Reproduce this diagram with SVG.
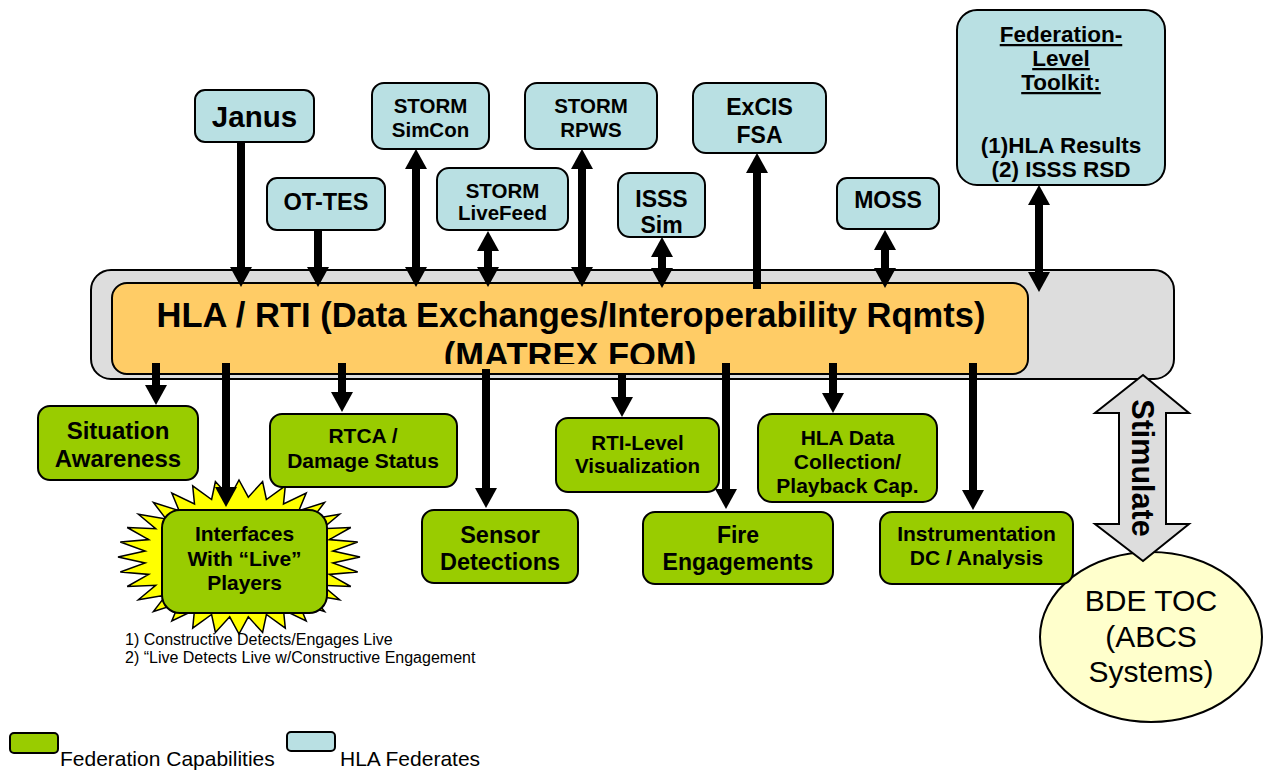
<svg xmlns="http://www.w3.org/2000/svg" width="1263" height="773" viewBox="0 0 1263 773">
<style>
.fed{fill:#b9e0e3;stroke:#000;stroke-width:2}
.cap{fill:#99cc00;stroke:#000;stroke-width:2}
.b{font-family:"Liberation Sans",Arial,sans-serif;font-weight:bold;fill:#000;text-anchor:middle}
.r{font-family:"Liberation Sans",Arial,sans-serif;fill:#000}
.ln{stroke:#000;stroke-width:8;fill:none}
.one{marker-end:url(#ah)}
.two{marker-start:url(#ah);marker-end:url(#ah)}
</style>
<defs>
<marker id="ah" markerUnits="userSpaceOnUse" markerWidth="22" markerHeight="22" refX="1" refY="11" orient="auto-start-reverse">
<path d="M0,0 L20,11 L0,22 Z" fill="#000"/>
</marker>
<clipPath id="tclip"><rect x="100" y="280" width="940" height="84"/></clipPath>
</defs>
<rect width="1263" height="773" fill="#fff"/>

<g id="rti">
<rect x="91" y="270" width="1083" height="109" rx="20" fill="#dddddd" stroke="#000" stroke-width="2"/>
<rect x="112" y="283" width="916" height="91" rx="15" fill="#ffcc66" stroke="#000" stroke-width="2"/>
<g clip-path="url(#tclip)">
<text class="b" x="571" y="327" font-size="34.5">HLA / RTI (Data Exchanges/Interoperability Rqmts)</text>
<text class="b" x="570" y="367" font-size="34.5">(MATREX FOM)</text>
</g>
</g>

<g id="live-star">
<polygon fill="#ffff00" stroke="#000" stroke-width="1.5" points="239,480 248.3,497.2 262.6,481.5 266.4,499.5 285.3,485.9 283.5,504 306.2,493 298.9,510.6 324.6,502.5 312,518.9 339.6,514.2 322.3,528.7 350.8,527.5 329.3,539.6 357.7,542 332.9,551.1 360,557 332.9,562.9 357.7,572 329.3,574.4 350.8,586.5 322.3,585.3 339.6,599.8 312,595.1 324.6,611.5 298.9,603.4 306.2,621 283.5,610 285.3,628.1 266.4,614.5 262.6,632.5 248.3,616.8 239,634 229.7,616.8 215.4,632.5 211.6,614.5 192.7,628.1 194.5,610 171.8,621 179.1,603.4 153.4,611.5 166,595.1 138.4,599.8 155.7,585.3 127.2,586.5 148.7,574.4 120.3,572 145.1,562.9 118,557 145.1,551.1 120.3,542 148.7,539.6 127.2,527.5 155.7,528.7 138.4,514.2 166,518.9 153.4,502.5 179.1,510.6 171.8,493 194.5,504 192.7,485.9 211.6,499.5 215.4,481.5 229.7,497.2"/>
</g>

<g id="bde-toc">
<ellipse cx="1151" cy="637" rx="111" ry="85" fill="#ffffcc" stroke="#000" stroke-width="2"/>
<text class="r" x="1151" y="611" font-size="30" text-anchor="middle">BDE TOC</text>
<text class="r" x="1151" y="647" font-size="30" text-anchor="middle">(ABCS</text>
<text class="r" x="1151" y="682" font-size="30" text-anchor="middle">Systems)</text>
</g>

<g id="stimulate">
<polygon points="1143,375 1189,413 1166,413 1166,524 1189,524 1143,561 1095,524 1119,524 1119,413 1095,413" fill="#dddddd" stroke="#000" stroke-width="2"/>
<text class="b" font-size="30.5" transform="translate(1132,468) rotate(90)">Stimulate</text>
</g>

<g id="connectors">
<line class="ln one" x1="241" y1="142" x2="241" y2="268"/>
<line class="ln one" x1="318" y1="230" x2="318" y2="268"/>
<line class="ln two" x1="416" y1="168" x2="416" y2="268"/>
<line class="ln two" x1="488" y1="250" x2="488" y2="268"/>
<line class="ln two" x1="582" y1="168" x2="582" y2="268"/>
<line class="ln two" x1="662" y1="256" x2="662" y2="269"/>
<line class="ln one" x1="757" y1="289" x2="757" y2="172"/>
<line class="ln two" x1="885" y1="249" x2="885" y2="269"/>
<line class="ln two" x1="1039" y1="204" x2="1039" y2="273"/>
<line class="ln one" x1="156" y1="363" x2="156" y2="386"/>
<line class="ln one" x1="226" y1="363" x2="226" y2="488"/>
<line class="ln one" x1="342" y1="363" x2="342" y2="393"/>
<line class="ln one" x1="486" y1="369" x2="486" y2="489"/>
<line class="ln one" x1="622" y1="374" x2="622" y2="398"/>
<line class="ln one" x1="726" y1="363" x2="726" y2="490"/>
<line class="ln one" x1="833" y1="363" x2="833" y2="394"/>
<line class="ln one" x1="973" y1="363" x2="973" y2="491"/>
</g>

<g id="janus">
<rect class="fed" x="195" y="90" width="119" height="52" rx="10"/>
<text class="b" x="254.5" y="127" font-size="29.5">Janus</text>
</g>
<g id="ot-tes">
<rect class="fed" x="267" y="178" width="118" height="52" rx="10"/>
<text class="b" x="326" y="210" font-size="23.5">OT-TES</text>
</g>
<g id="storm-simcon">
<rect class="fed" x="372" y="83" width="117" height="66" rx="12"/>
<text class="b" x="430.5" y="113" font-size="20.5">STORM</text>
<text class="b" x="430.5" y="137" font-size="20.5">SimCon</text>
</g>
<g id="storm-livefeed">
<rect class="fed" x="437" y="168" width="131" height="62" rx="12"/>
<text class="b" x="502.5" y="198" font-size="20.5">STORM</text>
<text class="b" x="502.5" y="220" font-size="20.5">LiveFeed</text>
</g>
<g id="storm-rpws">
<rect class="fed" x="525" y="83" width="132" height="66" rx="12"/>
<text class="b" x="591" y="113" font-size="20.5">STORM</text>
<text class="b" x="591" y="137" font-size="20.5">RPWS</text>
</g>
<g id="isss-sim">
<rect class="fed" x="618" y="173" width="87" height="64" rx="12"/>
<text class="b" x="661.5" y="207" font-size="23">ISSS</text>
<text class="b" x="661.5" y="233" font-size="23">Sim</text>
</g>
<g id="excis-fsa">
<rect class="fed" x="693" y="83" width="133" height="70" rx="13"/>
<text class="b" x="759.5" y="115" font-size="23">ExCIS</text>
<text class="b" x="759.5" y="143" font-size="23">FSA</text>
</g>
<g id="moss">
<rect class="fed" x="837" y="178" width="102" height="51" rx="10"/>
<text class="b" x="888" y="208" font-size="23">MOSS</text>
</g>
<g id="toolkit">
<rect class="fed" x="957" y="10" width="208" height="175" rx="20"/>
<text class="b" x="1061" y="42" font-size="22.5" text-decoration="underline">Federation-</text>
<text class="b" x="1061" y="66" font-size="22.5" text-decoration="underline">Level</text>
<text class="b" x="1061" y="90" font-size="22.5" text-decoration="underline">Toolkit:</text>
<text class="b" x="1061" y="153" font-size="22.5">(1)HLA Results</text>
<text class="b" x="1061" y="177" font-size="22.5">(2) ISSS RSD</text>
</g>

<g id="situation-awareness">
<rect class="cap" x="38" y="406" width="160" height="74" rx="12"/>
<text class="b" x="118" y="439" font-size="24">Situation</text>
<text class="b" x="118" y="467" font-size="24">Awareness</text>
</g>
<g id="rtca">
<rect class="cap" x="270" y="414" width="187" height="73" rx="12"/>
<text class="b" x="363" y="443" font-size="21">RTCA /</text>
<text class="b" x="363" y="468" font-size="21">Damage Status</text>
</g>
<g id="interfaces">
<rect class="cap" x="162" y="510" width="165" height="103" rx="18"/>
<text class="b" x="244.5" y="541" font-size="21">Interfaces</text>
<text class="b" x="244.5" y="566" font-size="21">With “Live”</text>
<text class="b" x="244.5" y="590" font-size="21">Players</text>
</g>
<g id="sensor">
<rect class="cap" x="422" y="510" width="156" height="73" rx="12"/>
<text class="b" x="500" y="543" font-size="23.5">Sensor</text>
<text class="b" x="500" y="570" font-size="23.5">Detections</text>
</g>
<g id="rti-vis">
<rect class="cap" x="556" y="418" width="163" height="74" rx="12"/>
<text class="b" x="637.5" y="450" font-size="20.5">RTI-Level</text>
<text class="b" x="637.5" y="473" font-size="20.5">Visualization</text>
</g>
<g id="fire">
<rect class="cap" x="643" y="512" width="190" height="72" rx="12"/>
<text class="b" x="738" y="543" font-size="23">Fire</text>
<text class="b" x="738" y="570" font-size="23">Engagements</text>
</g>
<g id="hla-data">
<rect class="cap" x="758" y="414" width="179" height="88" rx="14"/>
<text class="b" x="847.5" y="445" font-size="21">HLA Data</text>
<text class="b" x="847.5" y="469" font-size="21">Collection/</text>
<text class="b" x="847.5" y="493" font-size="21">Playback Cap.</text>
</g>
<g id="instrumentation">
<rect class="cap" x="880" y="512" width="193" height="72" rx="12"/>
<text class="b" x="976.5" y="541" font-size="21">Instrumentation</text>
<text class="b" x="976.5" y="565" font-size="21">DC / Analysis</text>
</g>

<g id="notes">
<text class="r" x="125" y="645" font-size="16">1) Constructive Detects/Engages Live</text>
<text class="r" x="125" y="663" font-size="16">2) “Live Detects Live w/Constructive Engagement</text>
</g>

<g id="legend">
<rect class="cap" x="10" y="733" width="48" height="20" rx="4"/>
<text class="r" x="60" y="766" font-size="21">Federation Capabilities</text>
<rect class="fed" x="287" y="732" width="48" height="19" rx="4"/>
<text class="r" x="340" y="766" font-size="21">HLA Federates</text>
</g>
</svg>
